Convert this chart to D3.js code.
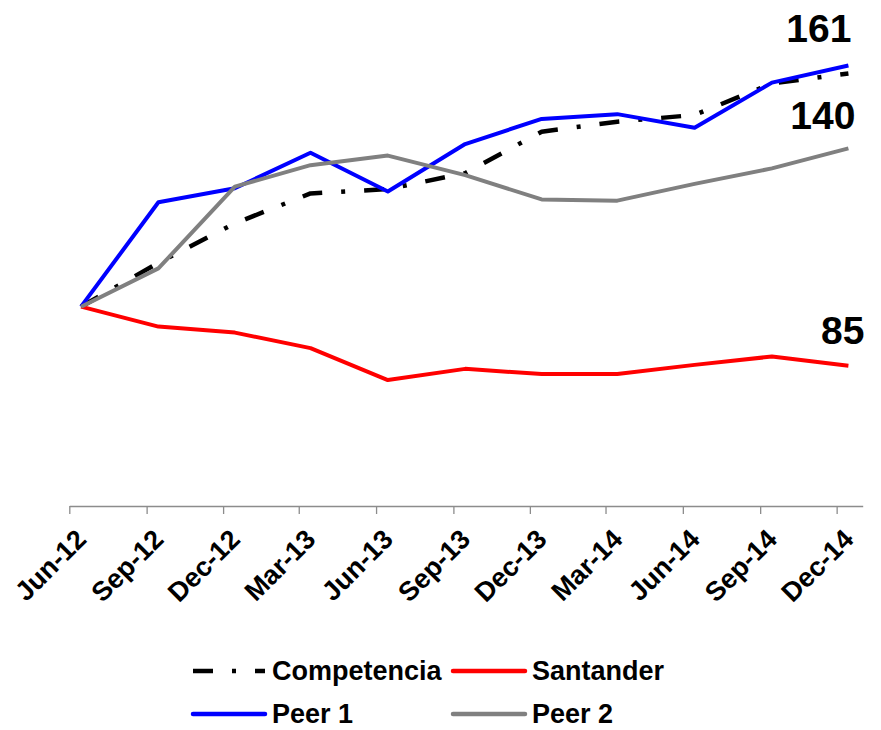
<!DOCTYPE html>
<html>
<head>
<meta charset="utf-8">
<script src="https://cdn.jsdelivr.net/npm/d3@7"></script>
<style>
  html, body { margin: 0; padding: 0; background: #fff; }
  svg { display: block; font-family: "Liberation Sans", Arial, sans-serif; font-weight: bold; }
</style>
</head>
<body>
<svg id="chart" width="881" height="730"></svg>
<script>
// ---- data ----
const categories = ["Jun-12","Sep-12","Dec-12","Mar-13","Jun-13","Sep-13","Dec-13","Mar-14","Jun-14","Sep-14","Dec-14"];
const competencia = [100, 111.0, 120.9, 128.4, 129.5, 133.5, 143.9, 146.4, 148.1, 156.0, 158.5];
const santander   = [100, 95.0, 93.5, 89.6, 81.6, 84.4, 83.1, 83.1, 85.4, 87.5, 85.2];
const peer1       = [100, 126.2, 129.7, 138.6, 128.9, 140.8, 147.1, 148.3, 144.9, 156.2, 160.5];
const peer2       = [100, 109.6, 130.1, 135.5, 137.9, 133.0, 126.9, 126.6, 130.8, 134.7, 139.7];
const endLabels   = [{text: "161", series: "peer1"}, {text: "140", series: "peer2"}, {text: "85", series: "santander"}];
const yDomain = [50, 175];

// ---- parse categories into dates ----
const parseCat = d3.timeParse("%b-%y");
const tickDates = categories.map(parseCat);                       // first of month
const pointDates = tickDates.map(d => d3.timeDay.offset(d, 14));  // mid-month values

const svg = d3.select("#chart");
const x = d3.scaleTime()
  .domain([tickDates[0], d3.timeMonth.offset(tickDates[tickDates.length - 1], 1)])
  .range([69.3, 862.7]);
const y = d3.scaleLinear().domain(yDomain).range([506, 7.7]);

// ---- x axis ----
const xAxis = d3.axisBottom(x)
  .tickValues(tickDates)
  .tickSize(8)
  .tickSizeOuter(0)
  .tickFormat((d, i) => categories[i]);
const gx = svg.append("g").attr("transform", `translate(0,${y(yDomain[0])})`).call(xAxis);
gx.select(".domain").attr("stroke", "#8c8c8c").attr("stroke-width", 1.3);
gx.selectAll(".tick line").attr("stroke", "#8c8c8c").attr("stroke-width", 1.3);
gx.selectAll(".tick text")
  .attr("font-size", 27)
  .attr("font-weight", "bold")
  .attr("fill", "#000")
  .attr("text-anchor", "end")
  .attr("dy", null)
  .attr("y", null)
  .attr("transform", "translate(18,35) rotate(-45)");

// ---- series ----
const series = [
  {key: "competencia", name: "Competencia", values: competencia, color: "#000", width: 4.5, dash: "20,19,4,19"},
  {key: "santander", name: "Santander", values: santander, color: "#ff0000", width: 4, dash: null},
  {key: "peer2", name: "Peer 2", values: peer2, color: "#808080", width: 4, dash: null},
  {key: "peer1", name: "Peer 1", values: peer1, color: "#0000ff", width: 4, dash: null}
];
const line = d3.line().x((d, i) => x(pointDates[i])).y(d => y(d));

const drawOrder = ["competencia", "santander", "peer1", "peer2"];
drawOrder.forEach(k => {
  const s = series.find(v => v.key === k);
  svg.append("path")
    .datum(s.values)
    .attr("d", line)
    .attr("fill", "none")
    .attr("stroke", s.color)
    .attr("stroke-width", s.width)
    .attr("stroke-linejoin", "round")
    .attr("stroke-dasharray", s.dash);
});

// ---- end labels ----
const labelPos = {peer1: {dx: 3, dy: -24}, peer2: {dx: 7, dy: -19}, santander: {dx: 16, dy: -22}};
endLabels.forEach(l => {
  const s = series.find(v => v.key === l.series);
  const last = s.values.length - 1;
  svg.append("text")
    .attr("x", x(pointDates[last]) + labelPos[l.series].dx)
    .attr("y", y(s.values[last]) + labelPos[l.series].dy)
    .attr("text-anchor", "end")
    .attr("font-size", 39)
    .attr("font-weight", "bold")
    .attr("fill", "#000")
    .text(l.text);
});

// ---- legend ----
const legendItems = [
  {key: "competencia", col: 0, row: 0},
  {key: "santander", col: 1, row: 0},
  {key: "peer1", col: 0, row: 1},
  {key: "peer2", col: 1, row: 1}
];
const colX = [193, 453], rowY = [671, 714], sampleLen = 72;
legendItems.forEach(it => {
  const s = series.find(v => v.key === it.key);
  const g = svg.append("g").attr("transform", `translate(${colX[it.col]},${rowY[it.row]})`);
  g.append("line")
    .attr("x1", 0).attr("x2", sampleLen).attr("y1", 0).attr("y2", 0)
    .attr("stroke", s.color).attr("stroke-width", 4.5)
    .attr("stroke-linecap", s.dash ? "butt" : "round")
    .attr("stroke-dasharray", s.dash);
  g.append("text")
    .attr("x", sampleLen + 7).attr("y", 0).attr("dy", "0.34em")
    .attr("font-size", 27).attr("font-weight", "bold").attr("fill", "#000")
    .text(s.name);
});
</script>
</body>
</html>
